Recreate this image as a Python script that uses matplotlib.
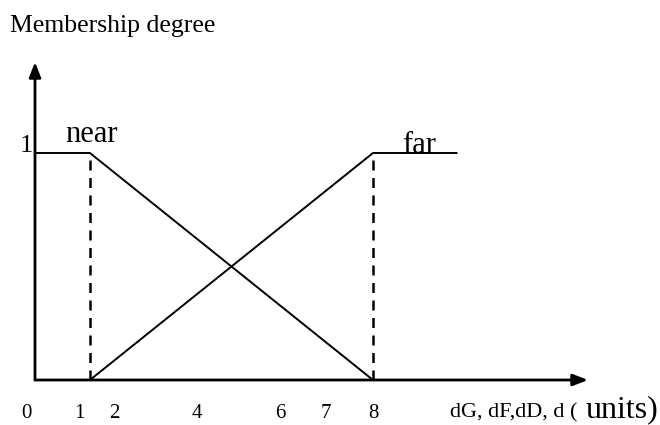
import matplotlib
matplotlib.use("Agg")
import matplotlib.pyplot as plt

# Data
near_x = [0, 1.3, 8]
near_y = [1, 1, 0]
far_x = [1.3, 8, 10]
far_y = [0, 1, 1]
tick_values = [0, 1, 2, 4, 6, 7, 8]
tick_labels = ['0', '1', '2', '4', '6', '7', '8']
tick_shift = [-0.21, 0.04, -0.13, -0.17, -0.2, -0.11, 0.0]

plt.rcParams['font.family'] = ['Liberation Serif', 'DejaVu Serif']

fig = plt.figure(figsize=(6.6, 4.25), dpi=100)
ax = fig.add_axes([0, 0, 1, 1])
# pixel mapping: x px = 35 + 42.25*x ; y px = 380 - 227*y
XS, YS = 42.25, 227.0
ax.set_xlim(-35/XS, (660-35)/XS)
ax.set_ylim(-45/YS, 380/YS)
ax.axis('off')

def px(xp):
    return (xp - 35) / XS

def py(yp):
    return (380 - yp) / YS

# axes arrows
ax.annotate('', xy=(0, py(62)), xytext=(0, 0),
            arrowprops=dict(arrowstyle='-|>,head_length=0.9,head_width=0.35', lw=2, color='black',
                            shrinkA=0, shrinkB=0))
ax.annotate('', xy=(px(588), 0), xytext=(0, 0),
            arrowprops=dict(arrowstyle='-|>,head_length=0.9,head_width=0.35', lw=2, color='black',
                            shrinkA=0, shrinkB=0))

# membership functions
ax.plot(near_x, near_y, color='black', lw=1.4, solid_capstyle='butt')
ax.plot(far_x, far_y, color='black', lw=1.4, solid_capstyle='butt')
ax.plot([near_x[1], near_x[1]], [0, 1], color='black', lw=1.8, ls=(0, (4, 3)))
ax.plot([far_x[1], far_x[1]], [0, 1], color='black', lw=1.8, ls=(0, (4, 3)))

# texts
ax.text(px(10), py(32), 'Membership degree', fontsize=18.5, ha='left', va='baseline')
ax.text(px(26), py(152), '1', fontsize=19, ha='center', va='baseline')
ax.text(px(65), py(142), 'near', fontsize=22, ha='left', va='baseline')
ax.text(px(402), py(153), 'far', fontsize=22, ha='left', va='baseline')

for v, lab, s in zip(tick_values, tick_labels, tick_shift):
    ax.text(v + s, py(418), lab, fontsize=15, ha='center', va='baseline')

ax.text(px(450), py(417), 'dG, dF,dD, d (', fontsize=16, ha='left', va='baseline')
ax.text(px(658), py(417), 'units)', fontsize=23, ha='right', va='baseline')

fig.savefig('out.png', dpi=100)
